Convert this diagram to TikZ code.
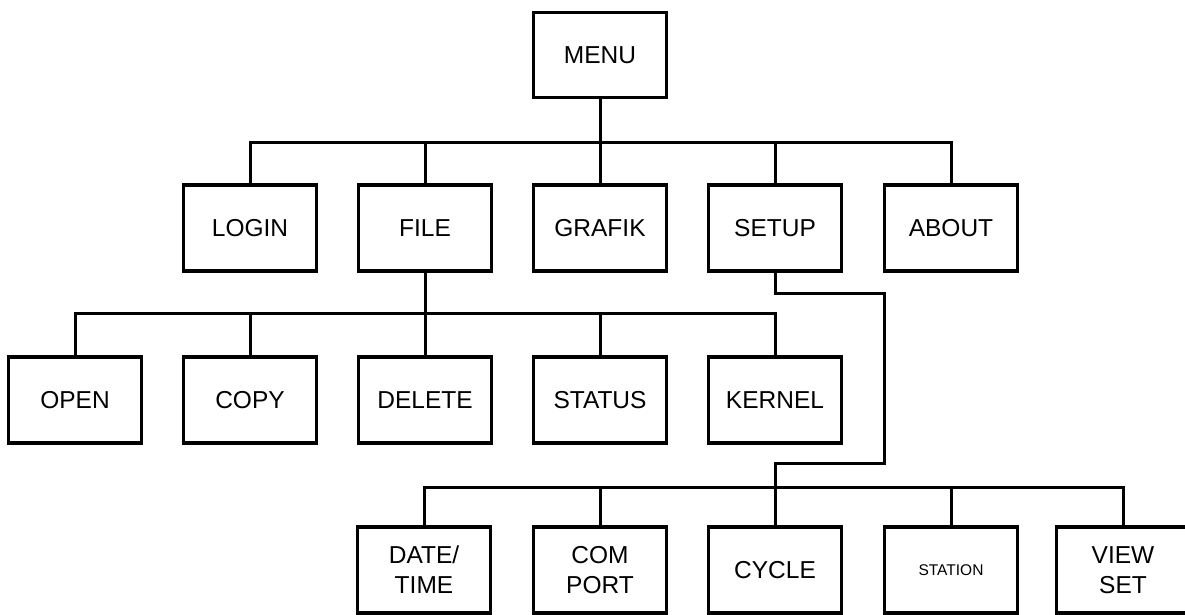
\documentclass[tikz,border=0pt]{standalone}
\usepackage{fontspec}
\setmainfont{Liberation Sans}
\begin{document}
\begin{tikzpicture}[x=1pt,y=-1pt,
  box/.style={draw, line width=3.2pt, minimum width=133pt, minimum height=86pt, inner sep=0pt, align=center,
    font=\fontsize{24.5}{30}\selectfont},
  conn/.style={line width=3pt}]
\useasboundingbox (0,0) rectangle (1185,614);
% top
\node[box, minimum height=85pt] (menu) at (600,55) {MENU};
% row 1
\node[box] (login)  at (250,228) {LOGIN};
\node[box] (file)   at (425,228) {FILE};
\node[box] (grafik) at (600,228) {GRAFIK};
\node[box] (setup)  at (775,228) {SETUP};
\node[box] (about)  at (951,228) {ABOUT};
% row 2
\node[box] (open)   at (75,400)  {OPEN};
\node[box] (copy)   at (250,400) {COPY};
\node[box] (delete) at (425,400) {DELETE};
\node[box] (status) at (600,400) {STATUS};
\node[box] (kernel) at (775,400) {KERNEL};
% row 3
\node[box] (datetime) at (424,570) {DATE/\\TIME};
\node[box] (comport)  at (600,570) {COM\\PORT};
\node[box] (cycle)    at (775,570) {CYCLE};
\node[box] (station)  at (951,570) {\fontsize{15.5}{18}\selectfont STATION};
\node[box] (viewset)  at (1123,570) {VIEW\\SET};
% buses
\coordinate (bus1) at (0,142);
\coordinate (bus2) at (0,313);
\coordinate (bus3) at (0,487);
\coordinate (j1) at (884,293);
\coordinate (j2) at (884,463);
% level 1
\draw[conn] (menu.south) -- (menu.south |- bus1);
\draw[conn] (login.north) -- (login.north |- bus1) -- (about.north |- bus1) -- (about.north);
\draw[conn] (file.north) -- (file.north |- bus1);
\draw[conn] (grafik.north) -- (grafik.north |- bus1);
\draw[conn] (setup.north) -- (setup.north |- bus1);
% level 2
\draw[conn] (file.south) -- (delete.north);
\draw[conn] (open.north) -- (open.north |- bus2) -- (kernel.north |- bus2) -- (kernel.north);
\draw[conn] (copy.north) -- (copy.north |- bus2);
\draw[conn] (status.north) -- (status.north |- bus2);
% setup route
\draw[conn] (setup.south) |- (j1) -- (j2) -| (cycle.north);
% level 3
\draw[conn] (datetime.north) -- (datetime.north |- bus3) -- (viewset.north |- bus3) -- (viewset.north);
\draw[conn] (comport.north) -- (comport.north |- bus3);
\draw[conn] (station.north) -- (station.north |- bus3);
\end{tikzpicture}
\end{document}
